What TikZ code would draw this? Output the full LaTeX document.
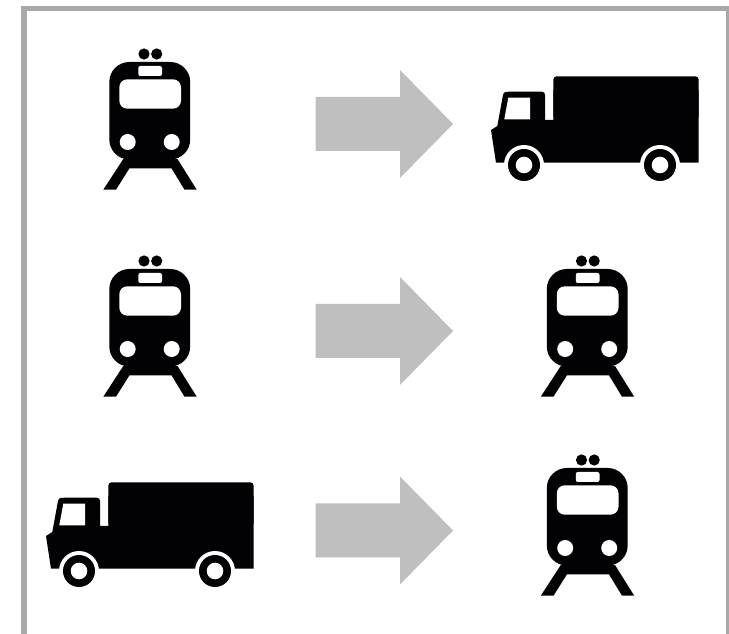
\documentclass[tikz,border=0pt]{standalone}
\definecolor{framegray}{HTML}{A9A9A9}
\definecolor{arrowgray}{HTML}{BFBFBF}
\definecolor{iconblack}{HTML}{020204}
\tikzset{
  framebar/.style={fill=framegray,draw=none},
  bigarrow/.pic={\fill[arrowgray] (315.5,-27)--(400,-27)--(400,-54)--(453,0)--(400,54)--(400,27)--(315.5,27)--cycle;},
  trainicon/.pic={
    \fill[iconblack] (144,54) circle (5.6) (156.7,54) circle (5.6);
    \fill[iconblack,rounded corners=15pt] (109.3,62) rectangle (190.2,159.5);
    \fill[iconblack] (123.3,159)--(103.3,189.7)--(116,189.7)--(129.5,168.3)--(171.5,168.3)--(184.5,189.7)--(196.7,189.7)--(177.5,159)--cycle;
    \fill[white,rounded corners=1.5pt] (138.3,66) rectangle (162,76);
    \fill[white,rounded corners=6pt] (119.3,79.3) rectangle (181,108.7);
    \fill[white] (127.7,142) circle (8) (171.7,142) circle (8);
  },
  truckicon/.pic={
    \fill[iconblack,rounded corners=2.5pt] (553.3,76.3) rectangle (698.7,120);
    \fill[iconblack] (553.3,90)--(698.7,90)--(698.7,162.7)--(496,162.7)--(491,130)--(497.3,126)--(503,95)
      .. controls (504,91) and (507,91.7) .. (510,91.7)--(541.7,91.7)
      .. controls (544,91.7) and (545,93) .. (545,95)--(545,120)--(553.3,120)--cycle;
    \fill[white] (508.3,97.7)--(530,97.7)--(530,119.3)--(504.3,119.3)--cycle;
    \fill[white] (524,165) circle (20) (660,165) circle (20);
    \fill[iconblack] (524,165) circle (16) (660,165) circle (16);
    \fill[white] (524,165) circle (8.3) (660,165) circle (8.3);
  }
}
\begin{document}
\begin{tikzpicture}[x=0.75pt,y=-0.75pt]
\useasboundingbox (0,0) rectangle (729,634);
\fill[white] (0,0) rectangle (729,634);
\fill[framebar] (21,6) rectangle (729,11);
\fill[framebar] (21,6) rectangle (26.5,634);
\fill[framebar] (726,6) rectangle (729,634);
\pic at (0,0) {trainicon};
\pic at (0,207) {trainicon};
\pic at (437.5,207) {trainicon};
\pic at (437.5,406) {trainicon};
\pic at (0,0) {truckicon};
\pic at (-445,406) {truckicon};
\pic at (0,124) {bigarrow};
\pic at (0,331) {bigarrow};
\pic at (0,530.5) {bigarrow};
\end{tikzpicture}
\end{document}
